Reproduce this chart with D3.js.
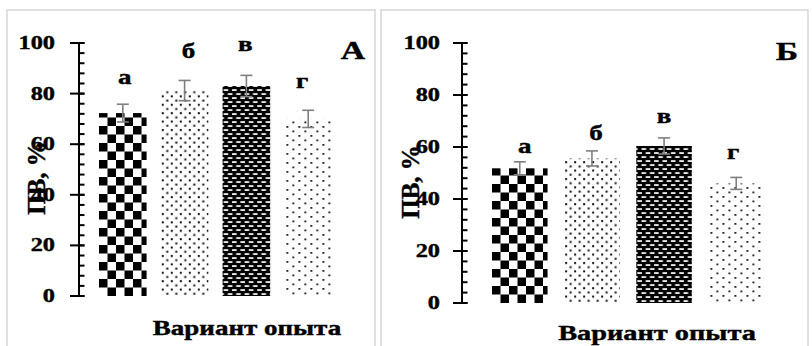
<!DOCTYPE html>
<html>
<head>
<meta charset="utf-8">
<script src="https://cdn.jsdelivr.net/npm/d3@7"></script>
<style>
  body { margin: 0; background: #fff; }
  text { font-family: "Times New Roman", Times, serif; font-weight: bold; fill: #000; stroke: #000; stroke-width: 0.4; }
</style>
</head>
<body>
<svg id="chart" width="812" height="346"></svg>
<script>
// data
var categories = ["а", "б", "в", "г"];
var valuesA = [72.3, 81.2, 83.0, 70.0];
var errorsA = [3.5, 4.0, 4.2, 3.4];
var labelLevelA = [83.8, 94.0, 97.0, 82.2];
var valuesB = [51.8, 55.6, 60.4, 46.0];
var errorsB = [2.5, 2.9, 3.1, 2.3];
var labelLevelB = [57.7, 62.7, 69.2, 55.4];
var yTicks = [0, 20, 40, 60, 80, 100];
var fills = ["url(#checker)", "url(#dots)", "url(#dashes)", "url(#sparse)"];

var svg = d3.select("#chart");
var stretch = 1.35; // the source picture is widened horizontally

// ---- patterns
var defs = svg.append("defs");

var p = defs.append("pattern").attr("id", "checker")
	.attr("patternUnits", "userSpaceOnUse").attr("width", 17).attr("height", 17);
p.append("rect").attr("width", 17).attr("height", 17).attr("fill", "#fff");
p.append("rect").attr("x", 0).attr("y", 0).attr("width", 8.5).attr("height", 8.5).attr("fill", "#000");
p.append("rect").attr("x", 8.5).attr("y", 8.5).attr("width", 8.5).attr("height", 8.5).attr("fill", "#000");

p = defs.append("pattern").attr("id", "dots")
	.attr("patternUnits", "userSpaceOnUse").attr("width", 9).attr("height", 8.4);
p.append("rect").attr("width", 9).attr("height", 8.4).attr("fill", "#fff");
p.append("rect").attr("x", 1).attr("y", 1).attr("width", 2).attr("height", 2).attr("fill", "#111");
p.append("rect").attr("x", 5.5).attr("y", 5.2).attr("width", 2).attr("height", 2).attr("fill", "#111");

p = defs.append("pattern").attr("id", "dashes")
	.attr("patternUnits", "userSpaceOnUse").attr("width", 8.4).attr("height", 8);
p.append("rect").attr("width", 8.4).attr("height", 8).attr("fill", "#000");
p.append("rect").attr("x", 1).attr("y", 1.2).attr("width", 4.6).attr("height", 1.7).attr("fill", "#fff");
p.append("rect").attr("x", 5.2).attr("y", 5.2).attr("width", 4.6).attr("height", 1.7).attr("fill", "#fff");
p.append("rect").attr("x", -3.2).attr("y", 5.2).attr("width", 4.6).attr("height", 1.7).attr("fill", "#fff");

p = defs.append("pattern").attr("id", "sparse")
	.attr("patternUnits", "userSpaceOnUse").attr("width", 12).attr("height", 9);
p.append("rect").attr("width", 12).attr("height", 9).attr("fill", "#fff");
p.append("rect").attr("x", 2).attr("y", 1).attr("width", 1.8).attr("height", 1.8).attr("fill", "#111");
p.append("rect").attr("x", 8).attr("y", 5.5).attr("width", 1.8).attr("height", 1.8).attr("fill", "#111");

// ---- one panel
function drawPanel(cfg) {
	var g = svg.append("g");

	// light frame around the panel
	g.append("rect")
		.attr("x", cfg.frame[0]).attr("y", 10)
		.attr("width", cfg.frame[1] - cfg.frame[0]).attr("height", 350)
		.attr("fill", "none").attr("stroke", "#d6d6d6").attr("stroke-width", 1.5);

	var y = d3.scaleLinear().domain([0, 100]).range([cfg.y0, cfg.y100]);
	var x = d3.scaleBand().domain(categories).range(cfg.bars).paddingInner(0.23).paddingOuter(0);

	// bars, each in its own group so the pattern starts at the bar corner
	var bars = g.selectAll(".bar")
		.data(cfg.values)
		.enter()
		.append("g")
		.attr("class", "bar")
		.attr("transform", (d, i) => `translate(${x(categories[i])}, ${y(0)})`);
	bars.append("rect")
		.attr("x", 0)
		.attr("y", d => y(d) - y(0))
		.attr("width", x.bandwidth())
		.attr("height", d => y(0) - y(d))
		.attr("fill", (d, i) => fills[i]);

	// error bars
	var err = g.selectAll(".err")
		.data(cfg.values)
		.enter()
		.append("g")
		.attr("class", "err")
		.attr("stroke", "#7f7f7f")
		.attr("stroke-width", 1.6);
	err.append("line")
		.attr("x1", (d, i) => x(categories[i]) + x.bandwidth() / 2)
		.attr("x2", (d, i) => x(categories[i]) + x.bandwidth() / 2)
		.attr("y1", (d, i) => y(d + cfg.errors[i]))
		.attr("y2", (d, i) => y(d - cfg.errors[i]));
	[1, -1].forEach(function(s) {
		err.append("line")
			.attr("x1", (d, i) => x(categories[i]) + x.bandwidth() / 2 - 6)
			.attr("x2", (d, i) => x(categories[i]) + x.bandwidth() / 2 + 6)
			.attr("y1", (d, i) => y(d + s * cfg.errors[i]))
			.attr("y2", (d, i) => y(d + s * cfg.errors[i]));
	});

	// letters over the bars
	g.selectAll(".lbl")
		.data(categories)
		.enter()
		.append("text")
		.attr("class", "lbl")
		.attr("text-anchor", "middle")
		.attr("font-size", 20)
		.attr("transform", (d, i) => `translate(${x(d) + x.bandwidth() / 2 + cfg.labelShift[i]}, ${y(cfg.labels[i])}) scale(${stretch},1)`)
		.text(d => d);

	// y axis: minor ticks inside, major ticks across
	var minor = d3.range(0, 101, 4);
	g.selectAll(".minor")
		.data(minor)
		.enter()
		.append("line")
		.attr("x1", cfg.axisX).attr("x2", cfg.axisX + 5.5)
		.attr("y1", d => y(d)).attr("y2", d => y(d))
		.attr("stroke", "#000").attr("stroke-width", 2);
	g.selectAll(".major")
		.data(yTicks)
		.enter()
		.append("line")
		.attr("x1", cfg.axisX - 9).attr("x2", cfg.axisX + 5.5)
		.attr("y1", d => y(d)).attr("y2", d => y(d))
		.attr("stroke", "#000").attr("stroke-width", 2);
	g.append("line")
		.attr("x1", cfg.axisX).attr("x2", cfg.axisX)
		.attr("y1", y(0)).attr("y2", y(100))
		.attr("stroke", "#000").attr("stroke-width", 2);

	g.selectAll(".tick")
		.data(yTicks)
		.enter()
		.append("text")
		.attr("text-anchor", "end")
		.attr("font-size", 18)
		.attr("transform", d => `translate(${cfg.tickRight}, ${y(d) + 6}) scale(${stretch},1)`)
		.text(d => d);

	// axis titles
	g.append("text")
		.attr("text-anchor", "middle")
		.attr("font-size", 25)
		.attr("transform", `translate(${cfg.yTitle[0]}, ${cfg.yTitle[1]}) rotate(-90)`)
		.text("ПВ, %");
	g.append("text")
		.attr("text-anchor", "middle")
		.attr("font-size", cfg.xTitleSize)
		.attr("transform", `translate(${cfg.xTitle[0]}, ${cfg.xTitle[1]}) scale(${stretch},1)`)
		.text("Вариант опыта");

	// panel letter
	g.append("text")
		.attr("text-anchor", "middle")
		.attr("font-size", 25)
		.attr("transform", `translate(${cfg.tag[0]}, ${cfg.tag[1]}) scale(${stretch},1)`)
		.text(cfg.tagText);
}

drawPanel({
	frame: [7, 375], y0: 296, y100: 43, axisX: 79, bars: [99, 332],
	values: valuesA, errors: errorsA, labels: labelLevelA, labelShift: [2, 4, -1, -6],
	tickRight: 55, yTitle: [45, 178], xTitle: [247, 335], xTitleSize: 20,
	tag: [353, 59], tagText: "А"
});
drawPanel({
	frame: [381, 808], y0: 303, y100: 43, axisX: 462, bars: [492, 764],
	values: valuesB, errors: errorsB, labels: labelLevelB, labelShift: [5, 4, 0, -3],
	tickRight: 440, yTitle: [419, 182], xTitle: [657, 340], xTitleSize: 21,
	tag: [787, 60], tagText: "Б"
});
</script>
</body>
</html>
